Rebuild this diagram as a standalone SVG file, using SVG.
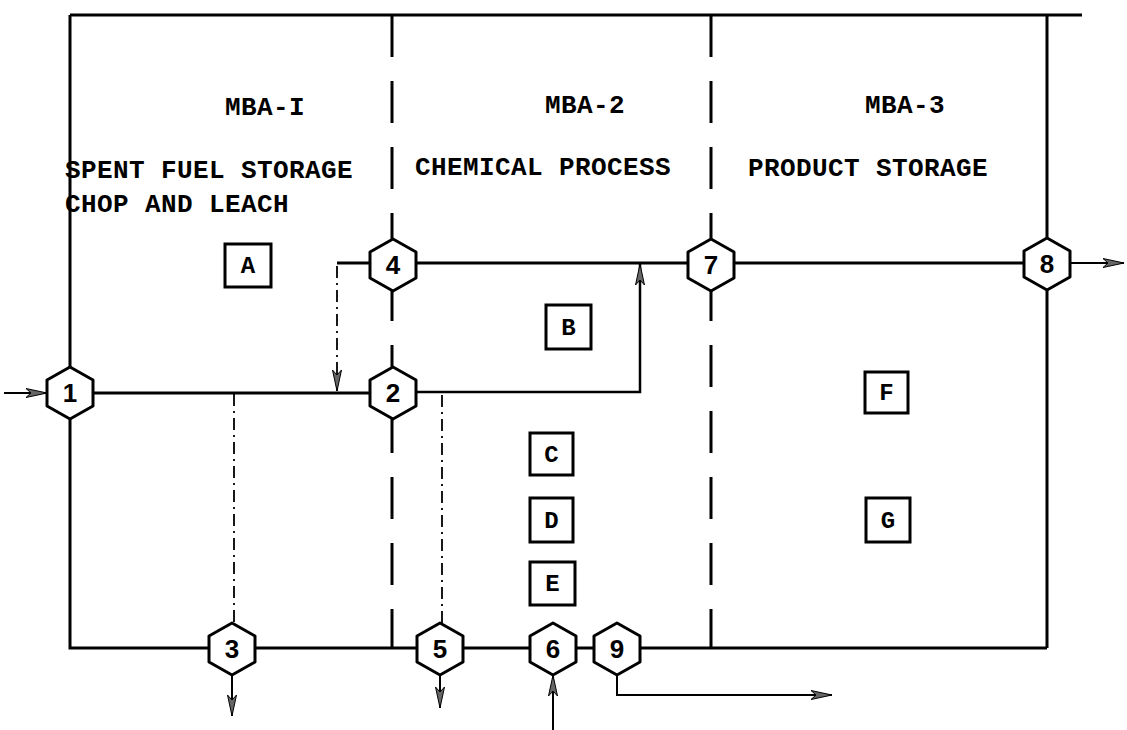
<svg xmlns="http://www.w3.org/2000/svg" width="1127" height="730" viewBox="0 0 1127 730">
  <style>
    .frame { stroke: #000; stroke-width: 3; fill: none; }
    .mba { stroke: #000; stroke-width: 3; fill: none; stroke-dasharray: 42 24; }
    .flow { stroke: #000; stroke-width: 2.5; fill: none; }
    .thin { stroke: #000; stroke-width: 2; fill: none; }
    .dd { stroke: #000; stroke-width: 1.8; fill: none; stroke-dasharray: 12 5 2 5; }
    .hex { stroke: #000; stroke-width: 3; fill: #fff; stroke-linejoin: round; }
    .box { stroke: #000; stroke-width: 3; fill: #fff; }
    .num { font-family: "Liberation Sans", Arial, sans-serif; font-size: 26px; font-weight: bold; text-anchor: middle; fill: #000; }
    .let { font-family: "Liberation Mono", "Courier New", monospace; font-size: 24px; font-weight: bold; text-anchor: middle; fill: #000; }
    .lbl { font-family: "Liberation Mono", "Courier New", monospace; font-size: 26px; font-weight: bold; letter-spacing: 0.4px; fill: #000; }
  </style>
  <defs>
    <marker id="arr" viewBox="0 0 22 10" refX="21" refY="5" markerWidth="22" markerHeight="10" markerUnits="userSpaceOnUse" orient="auto">
      <path d="M0,0.5 L21,5 L0,9.5 L5,5 Z" fill="#666" stroke="#000" stroke-width="1"/>
    </marker>
    <polygon id="hx" points="0,-26 23,-13 23,13 0,26 -23,13 -23,-13"/>
  </defs>
  <rect width="1127" height="730" fill="#fff"/>

  <g id="connectors">
    <!-- frame -->
    <path class="frame" d="M70,15 L1082,15"/>
    <path class="frame" d="M70,15 L70,648 L1047,648"/>
    <path class="frame" d="M1047,15 L1047,648"/>
    <!-- MBA boundaries -->
    <path class="mba" d="M392,15 L392,648"/>
    <path class="mba" d="M711,15 L711,648"/>
    <!-- main flows -->
    <path class="frame" d="M70,393 L393,393"/>
    <path class="frame" d="M337,263 L1047,263"/>
    <path class="thin" marker-end="url(#arr)" d="M4,393 L47,393"/>
    <path class="thin" marker-end="url(#arr)" d="M1070,263 L1124,263"/>
    <path class="dd" marker-end="url(#arr)" d="M337,266 L337,391"/>
    <path class="flow" marker-end="url(#arr)" d="M416,392 L640,392 L640,264"/>
    <path class="dd" d="M234,394 L234,623"/>
    <path class="dd" d="M442,395 L442,623"/>
    <path class="thin" marker-end="url(#arr)" d="M232,675 L232,716"/>
    <path class="thin" marker-end="url(#arr)" d="M440,675 L440,708"/>
    <path class="thin" marker-end="url(#arr)" d="M553,730 L553,675"/>
    <path class="thin" marker-end="url(#arr)" d="M617,675 L617,695 L832,695"/>
  </g>

  <g id="node-1"><use href="#hx" class="hex" x="70" y="393"/><text class="num" x="70" y="402">1</text></g>
  <g id="node-2"><use href="#hx" class="hex" x="393" y="393"/><text class="num" x="393" y="402">2</text></g>
  <g id="node-3"><use href="#hx" class="hex" x="232" y="649"/><text class="num" x="232" y="658">3</text></g>
  <g id="node-4"><use href="#hx" class="hex" x="393" y="265"/><text class="num" x="393" y="274">4</text></g>
  <g id="node-5"><use href="#hx" class="hex" x="440" y="649"/><text class="num" x="440" y="658">5</text></g>
  <g id="node-6"><use href="#hx" class="hex" x="553" y="649"/><text class="num" x="553" y="658">6</text></g>
  <g id="node-7"><use href="#hx" class="hex" x="711" y="265"/><text class="num" x="711" y="274">7</text></g>
  <g id="node-8"><use href="#hx" class="hex" x="1047" y="264"/><text class="num" x="1047" y="273">8</text></g>
  <g id="node-9"><use href="#hx" class="hex" x="617" y="649"/><text class="num" x="617" y="658">9</text></g>

  <g id="box-A"><rect class="box" x="225" y="244" width="46" height="43"/><text class="let" x="248" y="273">A</text></g>
  <g id="box-B"><rect class="box" x="546" y="305" width="45" height="44"/><text class="let" x="568.5" y="335">B</text></g>
  <g id="box-C"><rect class="box" x="530" y="433" width="43" height="42"/><text class="let" x="551.5" y="462">C</text></g>
  <g id="box-D"><rect class="box" x="530" y="498" width="43" height="44"/><text class="let" x="551.5" y="528">D</text></g>
  <g id="box-E"><rect class="box" x="530" y="562" width="45" height="43"/><text class="let" x="552.5" y="591">E</text></g>
  <g id="box-F"><rect class="box" x="865" y="372" width="43" height="41"/><text class="let" x="886.5" y="400">F</text></g>
  <g id="box-G"><rect class="box" x="866" y="498" width="44" height="44"/><text class="let" x="888" y="528">G</text></g>

  <g id="labels">
    <text class="lbl" x="225" y="115">MBA-I</text>
    <text class="lbl" x="545" y="113">MBA-2</text>
    <text class="lbl" x="865" y="113">MBA-3</text>
    <text class="lbl" x="65" y="178">SPENT FUEL STORAGE</text>
    <text class="lbl" x="65" y="212">CHOP AND LEACH</text>
    <text class="lbl" x="415" y="175">CHEMICAL PROCESS</text>
    <text class="lbl" x="748" y="176">PRODUCT STORAGE</text>
  </g>
</svg>
